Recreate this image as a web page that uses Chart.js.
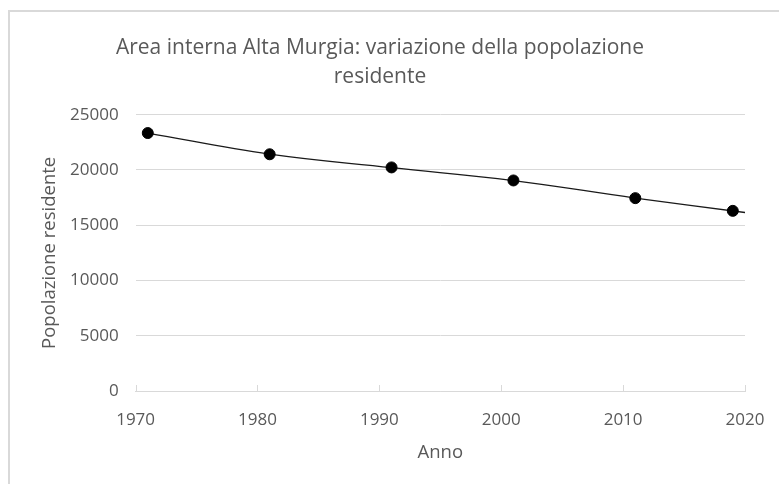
<!DOCTYPE html>
<html>
<head>
<meta charset="utf-8">
<script src="https://cdn.jsdelivr.net/npm/chart.js@4.4.1/dist/chart.umd.min.js"></script>
<style>
body{margin:0;background:#fff;}
#cornice{position:absolute;left:8px;top:10px;width:800px;height:500px;border-left:2px solid #d9d9d9;border-top:2px solid #d9d9d9;}
#box{position:absolute;left:0;top:0;width:779px;height:484px;}
</style>
</head>
<body>
<div id="cornice"></div>
<div id="box"><canvas id="grafico"></canvas></div>
<script>
// dati
var anni=[1971,1981,1991,2001,2011,2019];
var popolazione=[23340,21420,20230,19050,17450,16300];
// linea di tendenza
var trendAnni=[1971,1981,1991,2001,2011,2020];
var trendValori=[23340,21430,20210,19040,17460,16150];
var tickX=[1970,1980,1990,2000,2010,2020];
var tickY=[0,5000,10000,15000,20000,25000];

var grigio='#595959';
var FONT='"Open Sans", sans-serif';

var puntiSerie=new Array();
for(i=0;i<anni.length;i++){
	puntiSerie.push({x:anni[i],y:popolazione[i]});
}
var puntiTrend=new Array();
for(i=0;i<trendAnni.length;i++){
	puntiTrend.push({x:trendAnni[i],y:trendValori[i]});
}

// tacche dell'asse x verso l'interno
var tacchePlugin={
	id:'tacche',
	afterDatasetsDraw:function(chart){
		var ctx=chart.ctx;
		var sx=chart.scales.x;
		var base=chart.chartArea.bottom;
		ctx.save();
		ctx.strokeStyle='#d9d9d9';
		ctx.lineWidth=1;
		for(var i=0;i<tickX.length;i++){
			var px=Math.round(sx.getPixelForValue(tickX[i]))+0.5;
			ctx.beginPath();
			ctx.moveTo(px,base);
			ctx.lineTo(px,base-6);
			ctx.stroke();
		}
		ctx.restore();
	}
};

var config={
	type:'scatter',
	data:{
		datasets:[{
			label:'Tendenza',
			data:puntiTrend,
			showLine:true,
			borderColor:'#1a1a1a',
			borderWidth:1.3,
			pointRadius:0,
			tension:0.4,
			order:2
		},{
			label:'Popolazione residente',
			data:puntiSerie,
			showLine:false,
			backgroundColor:'#000',
			borderColor:'#000',
			pointRadius:5.5,
			pointHoverRadius:5.5,
			order:1
		}]
	},
	options:{
		responsive:false,
		animation:false,
		layout:{padding:{left:15,right:34,top:0,bottom:0}},
		plugins:{
			legend:{display:false},
			tooltip:{enabled:false},
			title:{
				display:true,
				text:['Area interna Alta Murgia: variazione della popolazione','residente'],
				color:grigio,
				font:{family:FONT,size:21,weight:'normal',lineHeight:1.35},
				padding:{top:34,bottom:24}
			}
		},
		scales:{
			x:{
				type:'linear',
				min:1970,
				max:2020,
				afterBuildTicks:function(scale){
					scale.ticks=tickX.map(function(v){return {value:v};});
				},
				afterFit:function(scale){
					scale.height=93;
					scale.paddingLeft=0;
					scale.paddingRight=20;
				},
				grid:{drawOnChartArea:false,drawTicks:false},
				border:{display:true,color:'#d9d9d9',width:1},
				ticks:{color:grigio,font:{family:FONT,size:17},padding:19,maxRotation:0,
					callback:function(v){return String(v);}},
				title:{display:true,text:'Anno',color:grigio,
					font:{family:FONT,size:18.5},padding:{top:4,bottom:20}}
			},
			y:{
				min:0,
				max:25000,
				afterBuildTicks:function(scale){
					scale.ticks=tickY.map(function(v){return {value:v};});
				},
				afterFit:function(scale){scale.width=120.6;},
				grid:{color:'#d9d9d9',lineWidth:1,drawTicks:false},
				border:{display:false},
				ticks:{color:grigio,font:{family:FONT,size:17},padding:17,
					callback:function(v){return String(v);}},
				title:{display:true,text:'Popolazione residente',color:grigio,
					font:{family:FONT,size:18.5},padding:{top:24,bottom:0}}
			}
		}
	},
	plugins:[tacchePlugin]
};

var canvas=document.getElementById('grafico');
canvas.width=779;
canvas.height=484;
new Chart(canvas.getContext('2d'),config);
</script>
</body>
</html>
